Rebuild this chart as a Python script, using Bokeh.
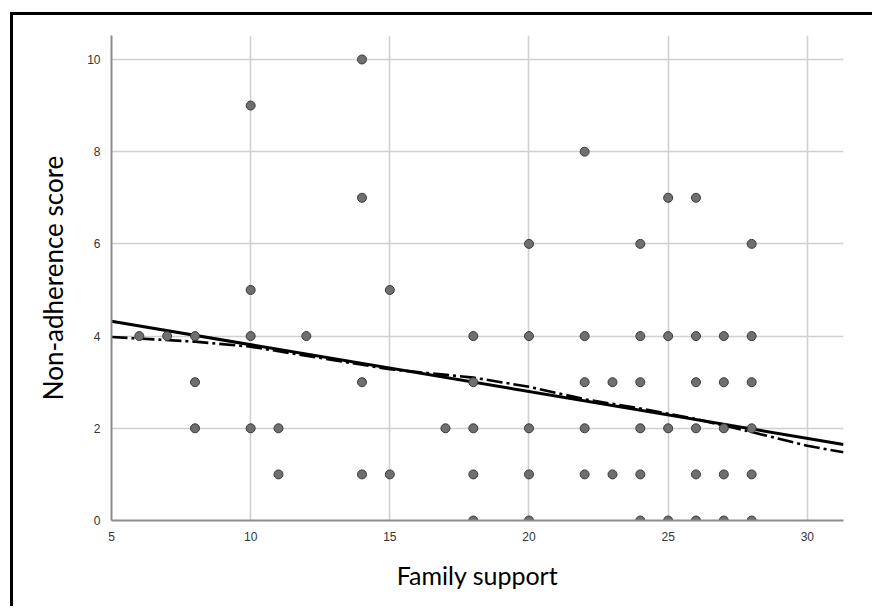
from bokeh.plotting import figure
from bokeh.models import Range1d, FixedTicker, Label
from bokeh.embed import file_html
from bokeh.resources import INLINE

# Data: Family support (x) vs Non-adherence score (y)
support = [6, 7, 8, 8, 8, 10, 10, 10, 10, 11, 11, 12,
           14, 14, 14, 14, 15, 15, 17,
           18, 18, 18, 18, 18, 20, 20, 20, 20, 20,
           22, 22, 22, 22, 22, 23, 23,
           24, 24, 24, 24, 24, 24, 25, 25, 25, 25,
           26, 26, 26, 26, 26, 26, 27, 27, 27, 27, 27,
           28, 28, 28, 28, 28, 28]
nonadherence = [4, 4, 4, 3, 2, 9, 5, 4, 2, 2, 1, 4,
                10, 7, 3, 1, 5, 1, 2,
                4, 3, 2, 1, 0, 6, 4, 2, 1, 0,
                8, 4, 3, 2, 1, 3, 1,
                6, 4, 3, 2, 1, 0, 7, 4, 2, 0,
                7, 4, 3, 2, 1, 0, 4, 3, 2, 1, 0,
                6, 4, 3, 2, 1, 0]

# Linear fit line (solid)
fit_x = [5, 31.3]
fit_y = [4.32, 1.65]

# Smoothed fit line (dash-dot)
smooth_x = [5, 8, 10, 15, 18, 20, 22, 24, 26, 28, 30, 31.3]
smooth_y = [3.98, 3.88, 3.77, 3.28, 3.10, 2.90, 2.63, 2.43, 2.20, 1.92, 1.62, 1.48]

x_ticks = [5, 10, 15, 20, 25, 30]
y_ticks = [0, 2, 4, 6, 8, 10]

p = figure(width=872, height=606, output_backend="svg", toolbar_location=None,
           x_range=Range1d(5, 31.3), y_range=Range1d(0, 10.52),
           min_border_left=111, min_border_right=29, min_border_top=35,
           min_border_bottom=86,
           styles={"box-shadow": "inset 10px 12px 0 0 white, inset 13px 15px 0 0 black"})
p.outline_line_color = None
p.background_fill_color = "white"
p.border_fill_color = None

for ax in (p.xaxis[0], p.yaxis[0]):
    ax.axis_line_color = "#8c8c8c"
    ax.axis_line_width = 2
    ax.major_tick_line_color = None
    ax.minor_tick_line_color = None
    ax.major_label_text_font = "Liberation Sans"
    ax.major_label_text_font_size = "12px"
    ax.major_label_text_color = "#333333"
    ax.axis_label_text_font = "Lato"
    ax.axis_label_text_font_style = "normal"
    ax.axis_label_text_color = "black"

p.xaxis.axis_label_text_font_size = "25px"
p.yaxis.axis_label_text_font_size = "26px"
p.xaxis.ticker = FixedTicker(ticks=x_ticks)
p.yaxis.ticker = FixedTicker(ticks=y_ticks)
p.xaxis.axis_label = "Family support"
p.yaxis.axis_label = "Non-adherence score"
p.xaxis.major_label_standoff = 5
p.yaxis.major_label_standoff = 5
p.xaxis.axis_label_standoff = 16
p.yaxis.axis_label_standoff = 15

p.xgrid.ticker = FixedTicker(ticks=x_ticks)
p.ygrid.ticker = FixedTicker(ticks=y_ticks)
for g in (p.xgrid[0], p.ygrid[0]):
    g.grid_line_color = "#d0d0d0"
    g.grid_line_width = 1.6

p.line(fit_x, fit_y, line_color="black", line_width=3)
p.line(smooth_x, smooth_y, line_color="black", line_width=2.6, line_dash="16 4 3 4")

p.scatter(support, nonadherence, size=9, marker="circle",
          fill_color="#6f6f6f", line_color="#3a3a3a", line_width=1)

p.add_layout(Label(x=23.5, y=10.68, text=".", text_font_size="12px",
                   text_color="black", text_align="center", text_baseline="bottom"))

open("out.html", "w").write(file_html(p, INLINE))
